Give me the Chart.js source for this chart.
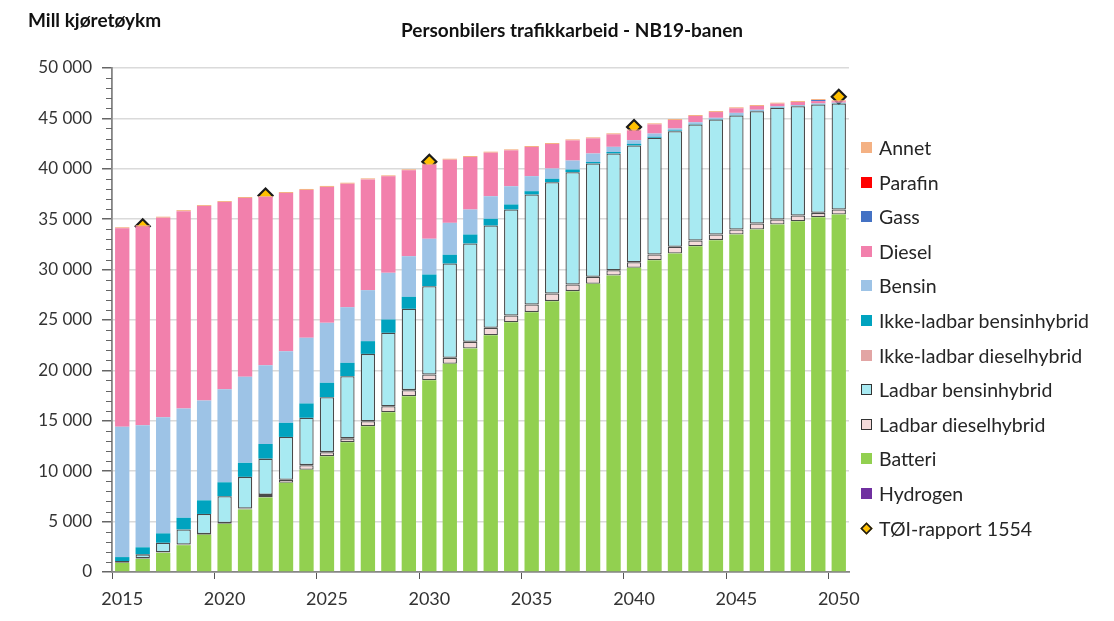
<!DOCTYPE html>
<html>
<head>
<meta charset="utf-8">
<script src="https://cdn.jsdelivr.net/npm/chart.js@4"></script>
<style>
  body { margin: 0; background: #fff; }
  #wrap { position: relative; width: 1114px; height: 621px; font-family: Lato, sans-serif; color: #000; }
  #chart { position: absolute; left: 0; top: 0; }
  .lbl { position: absolute; white-space: nowrap; font-weight: bold; font-size: 19px; line-height: 22px; color: #111; }
  #legend { position: absolute; left: 861px; top: 0; }
  .item { position: absolute; left: 0; height: 24px; line-height: 24px; white-space: nowrap; font-size: 19.5px; color: #262626; }
  .sw { position: absolute; left: 0; top: 6px; width: 11px; height: 11px; box-sizing: border-box; }
  .item span.t { position: absolute; left: 18px; top: 0; }
</style>
</head>
<body>
<div id="wrap">
  <canvas id="chart" width="1114" height="621"></canvas>
  <div class="lbl" style="left:28px;top:9px;">Mill kjøretøykm</div>
  <div class="lbl" style="left:572px;top:19px;transform:translateX(-50%);">Personbilers trafikkarbeid - NB19-banen</div>
  <div id="legend"></div>
</div>
<script>
// år 2015-2050
const years = [];
for (let y = 2015; y <= 2050; y++) years.push(String(y));

const yTicks = [0, 5000, 10000, 15000, 20000, 25000, 30000, 35000, 40000, 45000, 50000];

const hydrogen = [0,0,0,0,0,0,0,0,0,0,0,0,0,0,0,0,0,0,0,0,0,0,0,0,0,0,0,0,0,0,0,0,0,0,0,0];
const batteri = [900,1300,1900,2660,3700,4780,6200,7400,8850,10150,11490,12880,14460,15850,17440,19030,20650,22170,23490,24780,25780,26870,27860,28590,29410,30180,30930,31600,32320,32920,33480,33980,34470,34800,35200,35470];
const ladbarDiesel = [30,50,50,60,60,80,100,250,300,450,400,380,500,600,600,560,600,670,740,670,760,760,660,700,530,550,570,660,570,560,500,590,500,570,430,490];
const ladbarBensin = [150,400,950,1500,2000,2650,3140,3600,4250,4700,5450,6160,6680,7280,8070,8760,9350,9750,10140,10510,10910,11040,11140,11240,11580,11580,11580,11470,11510,11410,11310,11140,11080,10840,10750,10520];
const ikkeLadbarDiesel = [0,0,0,0,0,0,0,0,0,0,0,0,0,0,0,0,0,0,0,0,0,0,0,0,0,0,0,0,0,0,0,0,0,0,0,0];
const ikkeLadbarBensin = [400,700,930,1160,1350,1390,1390,1450,1400,1420,1430,1330,1260,1320,1190,1160,870,890,670,500,330,340,270,150,150,170,100,80,50,40,40,30,30,30,30,30];
const bensin = [12920,12110,11530,10840,9900,9230,8530,7820,7100,6510,5950,5520,5060,4630,4030,3550,3170,2480,2240,1810,1490,1020,890,840,510,360,320,190,170,130,220,120,130,80,70,50];
const diesel = [19700,19740,19790,19580,19290,18570,17740,16680,15700,14670,13480,12250,10990,9570,8520,7340,6260,5210,4320,3560,2890,2430,2000,1500,1240,960,910,840,620,570,450,370,250,310,240,140];
const gass = [0,0,0,0,0,0,0,0,0,0,0,0,0,0,0,0,0,0,0,0,0,0,0,0,0,0,0,0,0,0,0,0,0,0,100,0];
const parafin = [0,0,0,0,0,0,0,0,0,0,0,0,0,0,0,0,0,0,0,0,0,0,0,0,0,0,0,0,0,0,0,0,0,0,0,0];
const annet = [100,100,100,100,100,100,100,100,100,100,100,100,100,100,100,100,100,100,100,100,100,100,100,100,100,100,100,100,100,100,100,100,100,100,100,100];
const toi = [null,34300,null,null,null,null,null,37350,null,null,null,null,null,null,null,40700,null,null,null,null,null,null,null,null,null,44150,null,null,null,null,null,null,null,null,null,47150];

function bar(label, data, color, outlined) {
    return {
        type: 'bar',
        label: label,
        data: data,
        backgroundColor: color,
        borderColor: outlined ? '#4a4a4a' : color,
        borderWidth: outlined ? 1.3 : 0,
        borderSkipped: false,
        barPercentage: 0.7,
        categoryPercentage: 1.0,
        yAxisID: 'y'
    };
}

// stablet nedenfra og opp
const datasets = [
    bar('Hydrogen', hydrogen, '#7030A0'),
    bar('Batteri', batteri, '#92D050'),
    bar('Ladbar dieselhybrid', ladbarDiesel, '#F4DADA', true),
    bar('Ladbar bensinhybrid', ladbarBensin, '#A8EAF2', true),
    bar('Ikke-ladbar dieselhybrid', ikkeLadbarDiesel, '#E2A5A4'),
    bar('Ikke-ladbar bensinhybrid', ikkeLadbarBensin, '#00A3BF'),
    bar('Bensin', bensin, '#9DC3E6'),
    bar('Diesel', diesel, '#F280AC'),
    bar('Gass', gass, '#4472C4'),
    bar('Parafin', parafin, '#FF0000'),
    bar('Annet', annet, '#F4B183'),
    {
        type: 'line',
        label: 'TØI-rapport 1554',
        data: toi,
        showLine: false,
        pointStyle: 'rectRot',
        pointRadius: 7,
        pointBackgroundColor: '#FFC000',
        pointBorderColor: '#1a1a1a',
        pointBorderWidth: 2.2,
        yAxisID: 'y2'
    }
];

const axisColor = '#858585';
const fmt = v => String(v).replace(/\B(?=(\d{3})+(?!\d))/g, ' ');

// små hjelpestreker for hver 1000 på y-aksen
const minorTicks = {
    id: 'minorTicks',
    afterDraw(chart) {
        const y = chart.scales.y;
        const ctx = chart.ctx;
        const left = chart.chartArea.left;
        ctx.save();
        ctx.strokeStyle = '#666';
        ctx.lineWidth = 1;
        for (let v = 1000; v < 50000; v += 1000) {
            if (v % 5000 === 0) continue;
            const py = Math.round(y.getPixelForValue(v)) + 0.5;
            ctx.beginPath();
            ctx.moveTo(left - 6, py);
            ctx.lineTo(left, py);
            ctx.stroke();
        }
        ctx.restore();
    }
};

const chart = new Chart(document.getElementById('chart').getContext('2d'), {
    data: { labels: years, datasets: datasets },
    plugins: [minorTicks],
    options: {
        responsive: false,
        animation: false,
        devicePixelRatio: 1,
        layout: { padding: { left: 38, right: 265, top: 68, bottom: 0 } },
        plugins: { legend: { display: false }, tooltip: { enabled: false }, title: { display: false } },
        scales: {
            x: {
                stacked: true,
                offset: true,
                grid: {
                    offset: true,
                    drawOnChartArea: false,
                    tickLength: 7,
                    tickColor: ctx => (ctx.index % 5 === 0 ? '#555' : 'rgba(0,0,0,0)')
                },
                border: { color: axisColor, width: 1.8 },
                ticks: {
                    autoSkip: false,
                    maxRotation: 0,
                    padding: 9,
                    color: '#333',
                    font: { family: 'Lato', size: 18 },
                    callback: function (v, i) { return (2015 + i) % 5 === 0 ? years[i] : ''; }
                },
                afterFit: s => { s.height = 49; }
            },
            y: {
                stacked: true,
                min: 0,
                max: 50000,
                grid: {
                    color: ctx => (ctx.tick && ctx.tick.value > 0 ? '#dadada' : 'rgba(0,0,0,0)'),
                    lineWidth: 1.5,
                    tickLength: 10,
                    tickColor: '#666'
                },
                border: { color: axisColor, width: 1.8 },
                ticks: {
                    stepSize: 5000,
                    autoSkip: false,
                    padding: 10,
                    color: '#333',
                    font: { family: 'Lato', size: 17 },
                    callback: v => (yTicks.includes(v) ? fmt(v) : '')
                },
                afterFit: s => { s.width = 74; }
            },
            y2: { display: false, min: 0, max: 50000 }
        }
    }
});

// forklaring til høyre, samme rekkefølge som originalen
const legendOrder = ['Annet', 'Parafin', 'Gass', 'Diesel', 'Bensin', 'Ikke-ladbar bensinhybrid',
    'Ikke-ladbar dieselhybrid', 'Ladbar bensinhybrid', 'Ladbar dieselhybrid', 'Batteri', 'Hydrogen', 'TØI-rapport 1554'];
const legend = document.getElementById('legend');
legendOrder.forEach((name, i) => {
    const ds = chart.data.datasets.find(d => d.label === name);
    const item = document.createElement('div');
    item.className = 'item';
    item.style.top = (148 + i * 34.6 - 12) + 'px';
    const sw = document.createElement('div');
    sw.className = 'sw';
    if (ds.type === 'line') {
        sw.style.background = ds.pointBackgroundColor;
        sw.style.border = '2px solid #1a1a1a';
        sw.style.transform = 'rotate(45deg) scale(0.8)';
    } else {
        sw.style.background = ds.backgroundColor;
        if (ds.borderWidth > 0) sw.style.border = '1px solid #333';
    }
    const t = document.createElement('span');
    t.className = 't';
    t.textContent = name;
    item.appendChild(sw);
    item.appendChild(t);
    legend.appendChild(item);
});
</script>
</body>
</html>
